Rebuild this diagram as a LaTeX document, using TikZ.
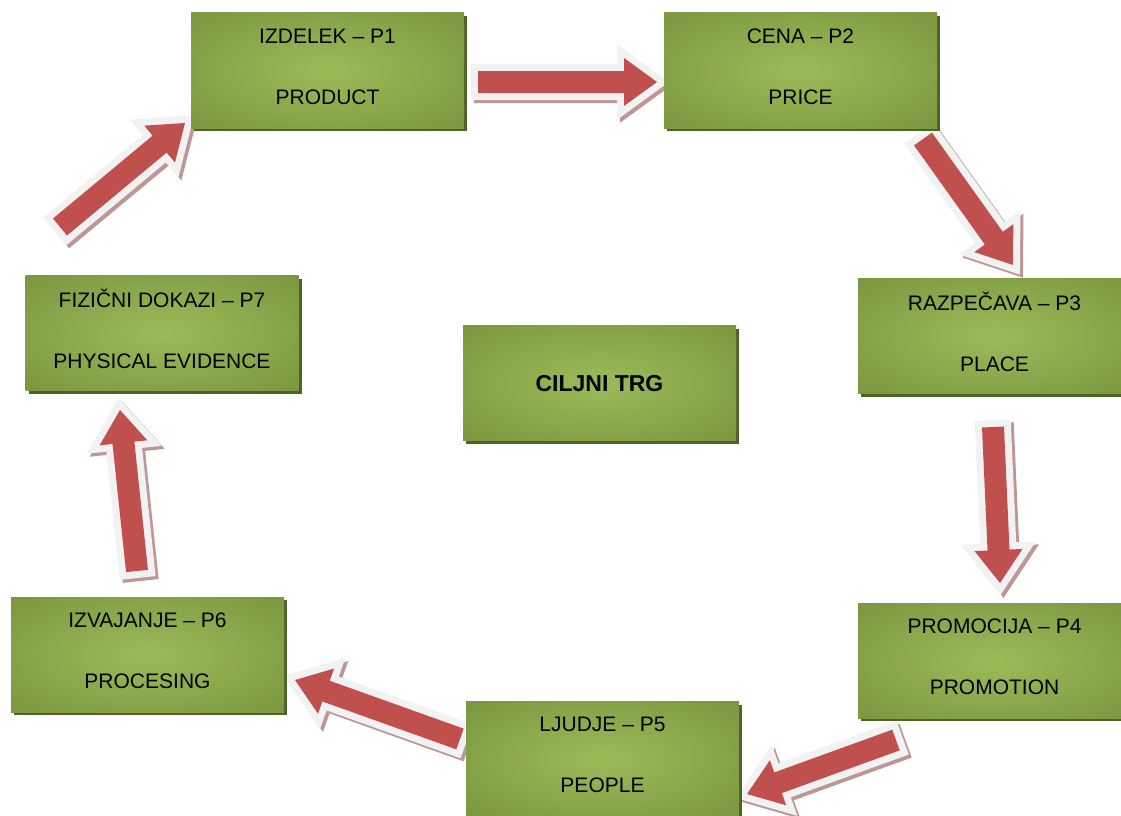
\documentclass[tikz,border=0pt]{standalone}
\usepackage{fontspec}
\setmainfont{Liberation Sans}
\usetikzlibrary{calc,shadows}

\definecolor{boxlight}{RGB}{155,187,89}
\definecolor{boxdark}{RGB}{118,146,60}
\definecolor{boxshadow}{RGB}{79,98,40}
\definecolor{arrowred}{RGB}{192,80,77}
\definecolor{arrowrim}{RGB}{242,242,242}
\definecolor{arrowshade}{RGB}{190,150,150}

\pgfdeclareradialshading{boxglow}{\pgfpointorigin}{color(0bp)=(boxlight); color(40bp)=(boxdark); color(75bp)=(boxdark)}

% outline of a block arrow, tail #1, tip #2 (head base in hb)
\newcommand{\arrowpath}[2]{($(#1)!11pt!90:(#2)$) -- ($(hb)!11pt!90:(#2)$) -- ($(hb)!24pt!90:(#2)$) -- (#2) -- ($(hb)!24pt!-90:(#2)$) -- ($(hb)!11pt!-90:(#2)$) -- ($(#1)!11pt!-90:(#2)$) -- cycle}
\newcommand{\bigarrow}[2]{%
  \coordinate (hb) at ($(#2)!33pt!(#1)$);
  \path[arrowshadow] \arrowpath{#1}{#2};
  \path[arrowrimline] \arrowpath{#1}{#2};
  \fill[arrowred] \arrowpath{#1}{#2};
}

\begin{document}
\begin{tikzpicture}[x=1pt, y=-1pt,
  box/.style={shade, shading=boxglow, minimum width=273pt, minimum height=115pt, inner sep=0pt, align=center, text depth=8pt, font=\fontsize{21}{61}\selectfont, drop shadow={shadow xshift=3pt, shadow yshift=-3pt, fill=boxshadow, opacity=1}},
  arrowshadow/.style={fill=arrowshade, draw=arrowshade, line width=14pt, line join=miter, transform canvas={shift={(3pt,-3pt)}}},
  arrowrimline/.style={fill=arrowrim, draw=arrowrim, line width=14pt, line join=miter}]
	\useasboundingbox[fill=white] (0,0) rectangle (1121,816);

	% arrow ends
	\coordinate (p1out) at (478,82);   \coordinate (p2in) at (657,82);
	\coordinate (p2out) at (923,139);  \coordinate (p3in) at (1013,265);
	\coordinate (p3out) at (993,427);  \coordinate (p4in) at (1000,583);
	\coordinate (p4out) at (896,740);  \coordinate (p5in) at (747,794);
	\coordinate (p5out) at (460,739);  \coordinate (p6in) at (295,680);
	\coordinate (p6out) at (137,571);  \coordinate (p7in) at (120,410);
	\coordinate (p7out) at (60,227);   \coordinate (p1in) at (185,123);

	\bigarrow{p1out}{p2in}
	\bigarrow{p2out}{p3in}
	\bigarrow{p3out}{p4in}
	\bigarrow{p4out}{p5in}
	\bigarrow{p5out}{p6in}
	\bigarrow{p6out}{p7in}
	\bigarrow{p7out}{p1in}

	% the seven P's round the target market
	\node[box] (p1) at (327.5,70.5) {IZDELEK – P1\\PRODUCT};
	\node[box] (p2) at (800.5,70.5) {CENA – P2\\PRICE};
	\node[box] (p3) at (994.5,336) {RAZPEČAVA – P3\\PLACE};
	\node[box] (p4) at (994.5,660.5) {PROMOCIJA – P4\\PROMOTION};
	\node[box] (p5) at (602.5,759) {LJUDJE – P5\\PEOPLE};
	\node[box] (p6) at (147.5,654.5) {IZVAJANJE – P6\\PROCESING};
	\node[box] (p7) at (162,333) {FIZIČNI DOKAZI – P7\\PHYSICAL EVIDENCE};
	\node[box, text depth=0pt, font=\fontsize{23}{27}\selectfont\bfseries] (target) at (599.5,383) {CILJNI TRG};
\end{tikzpicture}
\end{document}
